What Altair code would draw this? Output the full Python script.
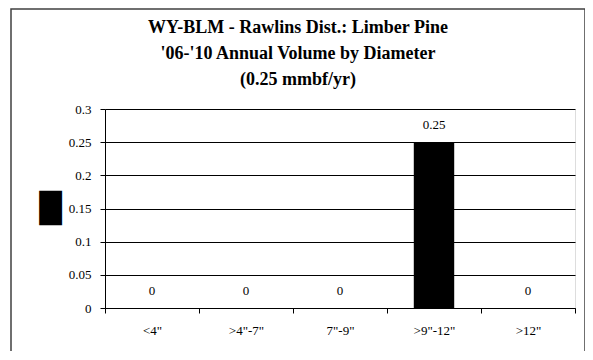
import altair as alt
import pandas as pd

categories = ['<4"', '>4"-7"', '7"-9"', '>9"-12"', '>12"']
values = [0, 0, 0, 0.25, 0]
y_ticks = [0, 0.05, 0.1, 0.15, 0.2, 0.25, 0.3]
title_lines = ["WY-BLM - Rawlins Dist.: Limber Pine",
               "'06-'10 Annual Volume by Diameter",
               "(0.25 mmbf/yr)"]

df = pd.DataFrame({"cat": categories, "val": values})
FONT = "Liberation Serif"

frame = alt.Chart(pd.DataFrame({"k": [0]})).mark_rect(
    fill=None, stroke="#404040", strokeWidth=1.5
).encode(
    x=alt.value(-94), x2=alt.value(480), y=alt.value(-100), y2=alt.value(260)
)

base = alt.Chart(df).encode(
    x=alt.X("cat:N", sort=categories,
            scale=alt.Scale(paddingInner=0, paddingOuter=0),
            axis=alt.Axis(title=None, labelAngle=0, tickBand="extent",
                          labelFont=FONT, labelFontSize=13, labelColor="black",
                          labelPadding=11, tickSize=5, tickColor="black",
                          domainColor="black", grid=False)),
    y=alt.Y("val:Q", scale=alt.Scale(domain=[0, 0.3], nice=False, zero=True),
            axis=alt.Axis(values=y_ticks, format="~g", title="█",
                          labelOverlap=False, tickCount=7,
                          titleFont="DejaVu Sans", titleFontSize=29,
                          titleAngle=0, titleX=-55, titleY=99.5,
                          titleAlign="center", titleBaseline="middle",
                          titleColor="black",
                          labelFont=FONT, labelFontSize=13, labelColor="black",
                          labelPadding=9, tickSize=5, tickColor="black",
                          domainColor="black", grid=True, gridColor="black",
                          gridOpacity=1, gridWidth=1)),
)

bars = base.mark_bar(color="black", width=alt.RelativeBandSize(0.43))

labels = base.mark_text(font=FONT, fontSize=13, color="black",
                        baseline="alphabetic", dy=-13).encode(
    text=alt.Text("val:Q", format="~g"),
)

chart = alt.layer(frame, bars, labels).properties(
    width=470, height=199,
    padding={"left": 97, "top": 101, "right": 10, "bottom": 43},
    autosize=alt.AutoSizeParams(type="none"),
    title=alt.TitleParams(text=title_lines, font=FONT, fontSize=18,
                          fontWeight="bold", color="black", lineHeight=26,
                          anchor="middle", frame="group", dx=-42, offset=-81),
).configure_view(stroke="black", strokeWidth=1.5).configure(background="white")

chart.save("out.html", embed_options={"renderer": "svg", "actions": False})
